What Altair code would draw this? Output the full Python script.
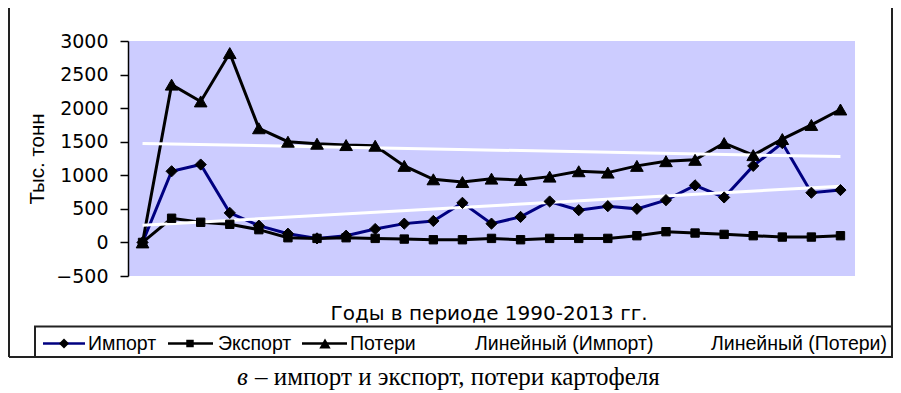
import altair as alt
import pandas as pd

# ---- data ----
years = list(range(1, 26))  # 25 points across the period
import_vals = [0, 1060, 1160, 440, 250, 130, 60, 100, 200, 280, 320, 590, 280,
               380, 610, 480, 540, 500, 630, 850, 670, 1140, 1480, 740, 780]
export_vals = [0, 360, 300, 270, 190, 70, 60, 70, 60, 50, 40, 40, 60,
               40, 60, 60, 60, 100, 160, 140, 120, 100, 80, 80, 100]
loss_vals = [0, 2350, 2100, 2820, 1700, 1500, 1470, 1450, 1440, 1140, 940, 900, 950,
             930, 980, 1060, 1040, 1140, 1210, 1230, 1480, 1300, 1540, 1750, 1980]
series_names = ["Импорт", "Экспорт", "Потери"]
trend_names = ["Линейный (Импорт)", "Линейный (Потери)"]
y_ticks = [-500, 0, 500, 1000, 1500, 2000, 2500, 3000]
y_title = "Тыс. тонн"
x_title = "Годы в периоде 1990-2013 гг."
caption_letter = "в"
caption_rest = "– импорт и экспорт, потери картофеля"

df = pd.DataFrame({
    "t": years * 3,
    "v": import_vals + export_vals + loss_vals,
    "s": [n for n in series_names for _ in years],
})
one = pd.DataFrame({"k": [0]})

SANS = "Liberation Sans"
X = alt.X("t:Q", scale=alt.Scale(domain=[0.5, 25.5], nice=False, zero=False), axis=None)
Y = alt.Y("v:Q", scale=alt.Scale(domain=[-500, 3000], nice=False, zero=False),
          axis=alt.Axis(values=y_ticks, format="d", grid=False, tickSize=8, tickWidth=1.5,
                        tickColor="black", domainColor="black", domainWidth=1.5,
                        labelFont="DejaVu Sans", labelFontSize=19, labelColor="black",
                        labelPadding=12, title=y_title, titleFont=SANS, titleFontSize=20.5,
                        titleFontWeight="normal", titleColor="black", titleX=-85,
                        titleY=117.5, titleBaseline="alphabetic", titleAngle=270))

lines = alt.Chart(df).mark_line(strokeWidth=3).encode(
    x=X, y=Y,
    color=alt.Color("s:N", scale=alt.Scale(domain=series_names,
                                           range=["#000080", "#000000", "#000000"]), legend=None),
)


def pts(name, shape, size):
    return alt.Chart(df).transform_filter(alt.datum.s == name).mark_point(
        shape=shape, filled=True, size=size, color="black", stroke="black",
        strokeWidth=1, opacity=1).encode(x=X, y=Y)


p_imp = pts("Импорт", "diamond", 125)
p_exp = pts("Экспорт", "square", 70)
p_los = pts("Потери", "triangle-up", 160)

trend = alt.Chart(df).transform_filter(
    alt.FieldOneOfPredicate(field="s", oneOf=["Импорт", "Потери"])
).transform_regression("t", "v", groupby=["s"]).mark_line(
    color="white", strokeWidth=3).encode(x=X, y=Y, detail="s:N")

# ---- frame, legend box, texts ----
RX = 764
frame_right = alt.Chart(one).mark_rule(color="#222", strokeWidth=2).encode(
    x=alt.value(RX), y=alt.value(-45), y2=alt.value(316))
frame_left = alt.Chart(one).mark_rule(color="#222", strokeWidth=2).encode(
    x=alt.value(-119), y=alt.value(-45), y2=alt.value(316))
frame_bottom = alt.Chart(one).mark_rule(color="#222", strokeWidth=2).encode(
    x=alt.value(-119), x2=alt.value(RX), y=alt.value(316))
legend_box = alt.Chart(one).mark_rect(fill="white", stroke="#222", strokeWidth=2).encode(
    x=alt.value(-93), x2=alt.value(RX), y=alt.value(285.5), y2=alt.value(316))

LY = 302.5


def leg_line(x1, x2, color):
    return alt.Chart(one).mark_rule(color=color, strokeWidth=2.5).encode(
        x=alt.value(x1), x2=alt.value(x2), y=alt.value(LY))


def leg_pt(x, shape, size):
    return alt.Chart(one).mark_point(shape=shape, filled=True, size=size, color="black",
                                     opacity=1).encode(x=alt.value(x), y=alt.value(LY))


def txt(s, x, y, font=SANS, size=19.5, align="left", style="normal", baseline="alphabetic"):
    return alt.Chart(one).mark_text(text=s, font=font, fontSize=size, align=align,
                                    baseline=baseline, fontStyle=style, color="black").encode(
        x=alt.value(x), y=alt.value(y))


legend_items = [
    leg_line(-85, -43, "#000080"), leg_pt(-64, "diamond", 100), txt(series_names[0], -40, 309),
    leg_line(40, 85, "#000000"), leg_pt(62, "square", 56), txt(series_names[1], 90, 309),
    leg_line(174, 219, "#000000"), leg_pt(197, "triangle-up", 130), txt(series_names[2], 222, 309),
    txt(trend_names[0], 347, 309), txt(trend_names[1], 583, 309),
]

xt = txt(x_title, 361, 279, font="DejaVu Sans", size=20, align="center")
cap1 = txt(caption_letter, 109, 344, font="Liberation Serif", size=25, style="italic")
cap2 = txt(caption_rest, 127, 344, font="Liberation Serif", size=25)

chart = alt.layer(
    lines, trend, p_imp, p_exp, p_los,
    frame_right, frame_left, frame_bottom, legend_box, *legend_items, xt, cap1, cap2
).properties(
    width=727, height=235,
    autosize=alt.AutoSizeParams(type="none"),
    padding={"left": 120, "top": 33, "right": 38, "bottom": 117},
).configure(
    background="white",
    view=alt.ViewConfig(fill="#CCCCFF", stroke=None),
)

chart.save("out.html", embed_options={"renderer": "svg", "actions": False})
